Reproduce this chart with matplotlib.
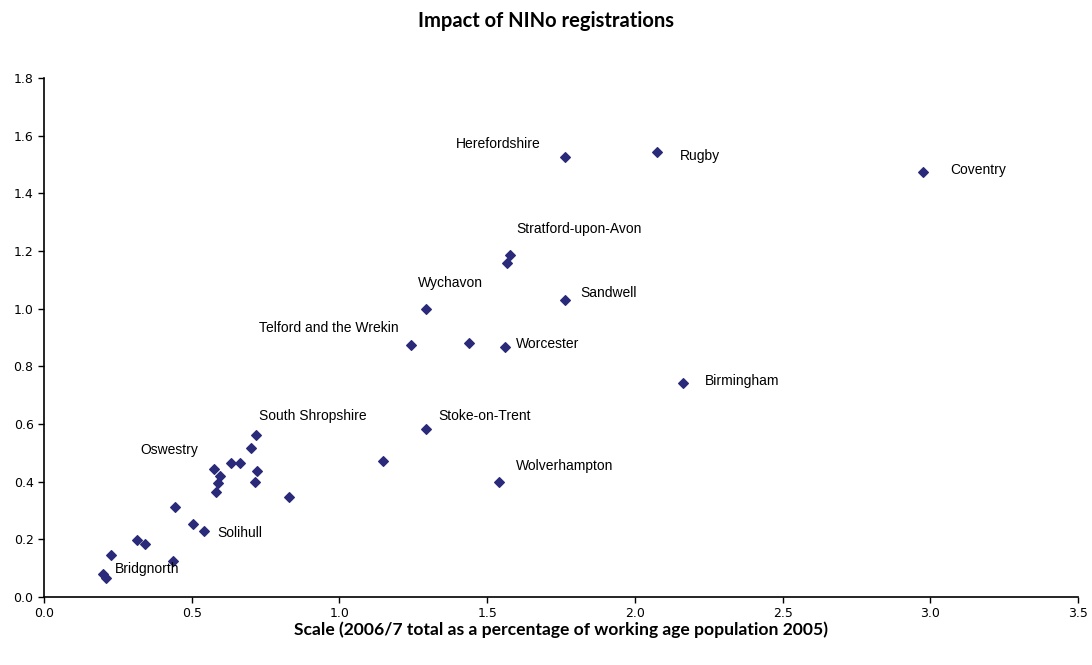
import matplotlib
matplotlib.use("Agg")
import matplotlib.pyplot as plt

# scale (x) and impact (y) per local authority
scale = [0.717, 0.701, 0.632, 0.665, 0.574, 0.722, 0.596, 0.588, 0.582, 0.715,
         0.829, 0.442, 0.504, 0.543, 0.314, 0.342, 0.226, 0.436, 0.201, 0.209,
         1.293, 1.149, 1.541, 1.764, 2.074, 2.976, 1.579, 1.566, 1.293, 1.764,
         1.242, 1.440, 1.560, 2.164]
impact = [0.562, 0.516, 0.464, 0.464, 0.444, 0.437, 0.420, 0.394, 0.365, 0.398,
          0.346, 0.313, 0.253, 0.229, 0.198, 0.183, 0.145, 0.124, 0.080, 0.065,
          0.582, 0.471, 0.398, 1.525, 1.545, 1.474, 1.186, 1.160, 0.998, 1.030,
          0.873, 0.882, 0.868, 0.743]

labels = ["Herefordshire", "Rugby", "Coventry", "Stratford-upon-Avon", "Wychavon",
          "Sandwell", "Telford and the Wrekin", "Worcester", "Birmingham",
          "Stoke-on-Trent", "South Shropshire", "Oswestry", "Wolverhampton",
          "Solihull", "Bridgnorth"]
label_x = [1.395, 2.153, 3.067, 1.598, 1.266, 1.815, 0.728, 1.598, 2.238,
           1.334, 0.728, 0.325, 1.598, 0.586, 0.240]
label_y = [1.571, 1.530, 1.481, 1.276, 1.089, 1.054, 0.933, 0.878, 0.749,
           0.628, 0.628, 0.510, 0.454, 0.222, 0.097]

fig = plt.figure(figsize=(10.92, 6.65), dpi=100)
ax = fig.add_axes([0.0403, 0.1023, 0.9469, 0.7804])

ax.scatter(scale, impact, marker="D", s=24, color="#2a2a7a", zorder=3)

for name, lx, ly in zip(labels, label_x, label_y):
    ax.text(lx, ly, name, fontsize=10, family="Liberation Sans",
            ha="left", va="center", color="black")

ax.set_xlim(0, 3.5)
ax.set_ylim(0, 1.8)
ax.set_xticks([0, 0.5, 1.0, 1.5, 2.0, 2.5, 3.0, 3.5])
ax.set_yticks([0, 0.2, 0.4, 0.6, 0.8, 1.0, 1.2, 1.4, 1.6, 1.8])
ax.xaxis.set_major_formatter(matplotlib.ticker.FormatStrFormatter("%.1f"))
ax.yaxis.set_major_formatter(matplotlib.ticker.FormatStrFormatter("%.1f"))
ax.tick_params(direction="out", length=4, width=1, labelsize=9, colors="black")
for lbl in ax.get_xticklabels() + ax.get_yticklabels():
    lbl.set_family("Liberation Sans Narrow")

ax.spines["top"].set_visible(False)
ax.spines["right"].set_visible(False)
ax.spines["left"].set_linewidth(1.2)
ax.spines["bottom"].set_linewidth(1.2)

ax.set_xlabel("Scale (2006/7 total as a percentage of working age population 2005)",
              fontsize=12.6, fontweight="bold", family="Lato", labelpad=1)
fig.text(0.5, 0.968, "Impact of NINo registrations", ha="center", va="center",
         fontsize=14.5, fontweight="bold", family="Lato")

plt.savefig("out.png", dpi=100)
